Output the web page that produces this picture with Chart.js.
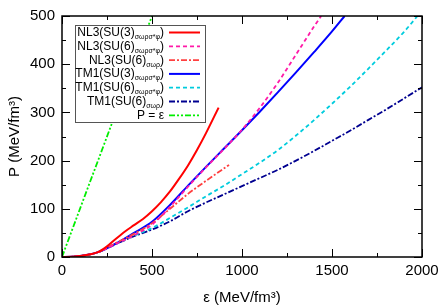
<!DOCTYPE html>
<html>
<head>
<meta charset="utf-8">
<script src="https://cdn.jsdelivr.net/npm/chart.js@4"></script>
<style>
  html, body { margin: 0; padding: 0; background: #fff; }
</style>
</head>
<body>
<canvas id="eosChart" width="444" height="307"></canvas>
<script>
// energy density (MeV/fm^3) and pressure (MeV/fm^3)
const epsNL3su3 = [0, 50, 100, 150, 200, 250, 300, 350, 400, 450, 500, 550, 600, 650, 700, 750, 800, 870];
const presNL3su3 = [0, 0.3, 2, 5, 10, 22, 38, 53, 66, 79, 95, 114, 136, 162, 190, 222, 257, 310];

const epsNL3su6 = [0, 50, 100, 150, 200, 300, 400, 500, 600, 700, 800, 900, 1000, 1100, 1200, 1300, 1400, 1440];
const presNL3su6 = [0, 0.3, 2, 5, 10, 27, 45, 67, 104, 146, 186, 224, 264, 310, 362, 420, 478, 500];

const epsNL3su6noHyp = [0, 50, 100, 150, 200, 300, 400, 500, 600, 700, 800, 928];
const presNL3su6noHyp = [0, 0.3, 2, 5, 10, 29, 48, 70, 100, 131, 158, 191];

const epsTM1su3 = [0, 50, 100, 150, 200, 300, 400, 500, 600, 700, 800, 900, 1000, 1100, 1200, 1300, 1400, 1500, 1570];
const presTM1su3 = [0, 0.3, 2, 5, 10, 28, 50, 73, 108, 148, 187, 225, 263, 302, 342, 383, 425, 468, 500];

const epsTM1su6 = [0, 50, 100, 150, 200, 300, 400, 500, 600, 700, 800, 900, 1000, 1100, 1200, 1300, 1400, 1500, 1600, 1700, 1800, 1900, 1975];
const presTM1su6 = [0, 0.3, 2, 5, 10, 27, 44, 60, 81, 103, 126, 148, 172, 196, 222, 252, 284, 318, 353, 390, 428, 467, 500];

const epsTM1su6noHyp = [0, 50, 100, 150, 200, 300, 400, 500, 600, 700, 800, 900, 1000, 1100, 1200, 1300, 1400, 1500, 1600, 1700, 1800, 1900, 2000];
const presTM1su6noHyp = [0, 0.3, 2, 5, 10, 27, 43, 57, 74, 95, 113, 130, 147, 164, 181, 200, 220, 241, 262, 284, 306, 329, 352];

const epsCausal = [0, 500];
const presCausal = [0, 500];

// legend text pieces: main text, subscript, closing text
const legendParts = [
  ['NL3(SU(3)', 'σωρσ*φ', ')'],
  ['NL3(SU(6)', 'σωρσ*φ', ')'],
  ['NL3(SU(6)', 'σωρ', ')'],
  ['TM1(SU(3)', 'σωρσ*φ', ')'],
  ['TM1(SU(6)', 'σωρσ*φ', ')'],
  ['TM1(SU(6)', 'σωρ', ')'],
  ['P = ε', '', '']
];

const xTicks = { min: 0, max: 2000, major: 500, minor: 250 };
const yTicks = { min: 0, max: 500, major: 100, minor: 50 };

const FONT = "'Liberation Sans', Arial, Helvetica, sans-serif";

function pts(xs, ys) {
  return xs.map((v, i) => ({ x: v, y: ys[i] }));
}

function series(label, xs, ys, color, dash, width) {
  return {
    label: label,
    data: pts(xs, ys),
    borderColor: color,
    backgroundColor: color,
    borderDash: dash,
    borderWidth: width,
    pointRadius: 0,
    fill: false,
    cubicInterpolationMode: 'monotone'
  };
}

// box ticks on all four sides, pointing inward
const frameTicks = {
  id: 'frameTicks',
  afterDatasetsDraw(chart) {
    const { ctx, chartArea: a, scales: { x, y } } = chart;
    ctx.save();
    ctx.strokeStyle = '#000';
    ctx.lineWidth = 1;
    ctx.beginPath();
    for (let v = xTicks.min; v <= xTicks.max; v += xTicks.minor) {
      const px = Math.round(x.getPixelForValue(v)) + 0.5;
      const len = v % xTicks.major === 0 ? 8 : 4;
      ctx.moveTo(px, a.bottom); ctx.lineTo(px, a.bottom - len);
      ctx.moveTo(px, a.top); ctx.lineTo(px, a.top + len);
    }
    for (let v = yTicks.min; v <= yTicks.max; v += yTicks.minor) {
      const py = Math.round(y.getPixelForValue(v)) + 0.5;
      const len = v % yTicks.major === 0 ? 8 : 4;
      ctx.moveTo(a.left, py); ctx.lineTo(a.left + len, py);
      ctx.moveTo(a.right, py); ctx.lineTo(a.right - len, py);
    }
    ctx.stroke();
    ctx.lineWidth = 1.5;
    ctx.strokeRect(a.left, a.top, a.right - a.left, a.bottom - a.top);
    ctx.restore();
  }
};

// xmgrace-like legend: right-aligned labels, line sample on the right
const boxLegend = {
  id: 'boxLegend',
  afterDraw(chart) {
    const ctx = chart.ctx;
    const bx = 75, by = 25, bw = 130, bh = 97;
    const rowH = 13.8, textRight = 164, lineX0 = 169, lineX1 = 200;
    ctx.save();
    ctx.fillStyle = '#fff';
    ctx.fillRect(bx, by, bw, bh);
    ctx.strokeStyle = '#555';
    ctx.lineWidth = 1;
    ctx.strokeRect(bx + 0.5, by + 0.5, bw, bh);
    ctx.textBaseline = 'alphabetic';
    chart.data.datasets.forEach((ds, i) => {
      const cy = by + 7 + rowH * i;
      const [main, sub, tail] = legendParts[i];
      ctx.font = '12px ' + FONT;
      const wMain = ctx.measureText(main).width;
      const wTail = ctx.measureText(tail).width;
      ctx.font = '7px ' + FONT;
      const wSub = ctx.measureText(sub).width;
      const x0 = textRight - wMain - wSub - wTail;
      ctx.fillStyle = '#000';
      ctx.font = '12px ' + FONT;
      ctx.fillText(main, x0, cy + 4);
      ctx.font = '7px ' + FONT;
      ctx.fillText(sub, x0 + wMain, cy + 7);
      ctx.font = '12px ' + FONT;
      ctx.fillText(tail, x0 + wMain + wSub, cy + 4);
      ctx.strokeStyle = ds.borderColor;
      ctx.lineWidth = ds.borderWidth;
      ctx.setLineDash(ds.borderDash || []);
      ctx.beginPath();
      ctx.moveTo(lineX0, cy + 0.5);
      ctx.lineTo(lineX1, cy + 0.5);
      ctx.stroke();
      ctx.setLineDash([]);
    });
    ctx.restore();
  }
};

const chartCanvas = document.getElementById('eosChart');
new Chart(chartCanvas.getContext('2d'), {
  type: 'line',
  data: {
    datasets: [
      series('NL3(SU(3)σωρσ*φ)', epsNL3su3, presNL3su3, '#ff0000', [], 2),
      series('NL3(SU(6)σωρσ*φ)', epsNL3su6, presNL3su6, '#ff1aa8', [4, 3], 1.8),
      series('NL3(SU(6)σωρ)', epsNL3su6noHyp, presNL3su6noHyp, '#ff4040', [6, 2, 2, 2], 1.8),
      series('TM1(SU(3)σωρσ*φ)', epsTM1su3, presTM1su3, '#0000ff', [], 2),
      series('TM1(SU(6)σωρσ*φ)', epsTM1su6, presTM1su6, '#00ccdd', [4, 3], 1.8),
      series('TM1(SU(6)σωρ)', epsTM1su6noHyp, presTM1su6noHyp, '#000090', [6, 2, 2, 2], 1.8),
      series('P = ε', epsCausal, presCausal, '#00ee00', [6, 2, 2, 2, 2, 2], 1.8)
    ]
  },
  options: {
    responsive: false,
    animation: false,
    layout: { padding: { top: 13, right: 22, left: 6, bottom: 0 } },
    plugins: {
      legend: { display: false },
      tooltip: { enabled: false }
    },
    scales: {
      x: {
        type: 'linear',
        min: xTicks.min,
        max: xTicks.max,
        grid: { display: false, drawTicks: false },
        border: { display: false },
        ticks: {
          stepSize: xTicks.major,
          color: '#000',
          padding: 5,
          maxRotation: 0,
          font: { family: FONT, size: 15 },
          callback: v => String(v)
        },
        title: {
          display: true,
          text: 'ε (MeV/fm³)',
          color: '#000',
          padding: { top: 2, bottom: 0 },
          font: { family: FONT, size: 15 }
        },
        afterFit(scale) { scale.height = 50; }
      },
      y: {
        type: 'linear',
        min: yTicks.min,
        max: yTicks.max,
        grid: { display: false, drawTicks: false },
        border: { display: false },
        ticks: {
          stepSize: yTicks.major,
          color: '#000',
          padding: 7,
          font: { family: FONT, size: 15 },
          callback: v => String(v)
        },
        title: {
          display: true,
          text: 'P (MeV/fm³)',
          color: '#000',
          padding: { top: 0, bottom: 2 },
          font: { family: FONT, size: 15 }
        },
        afterFit(scale) { scale.width = 56; }
      }
    }
  },
  plugins: [frameTicks, boxLegend]
});
</script>
</body>
</html>
